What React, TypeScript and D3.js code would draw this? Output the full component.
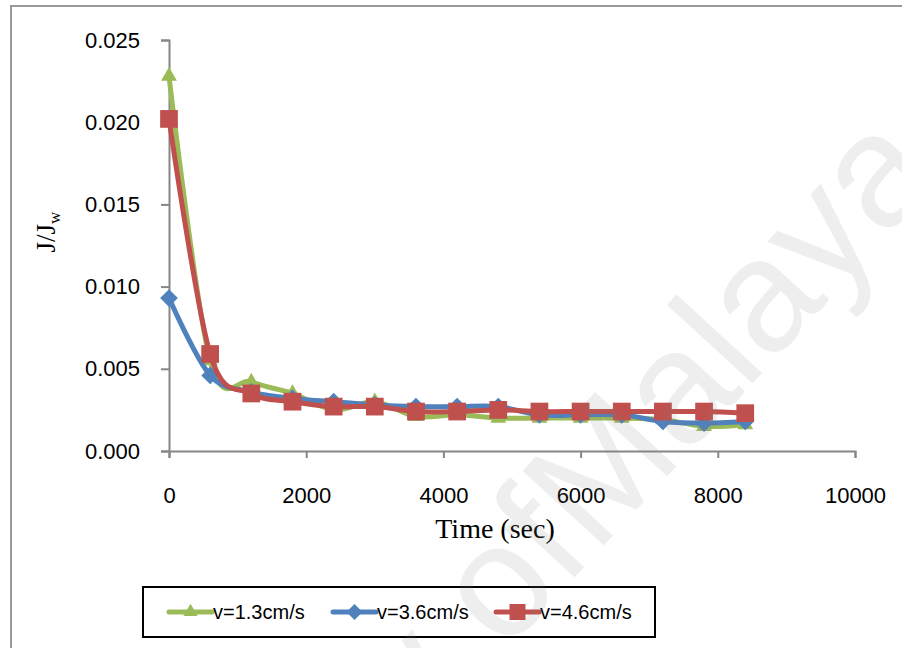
import React, { useEffect, useRef } from 'react';
import * as d3 from 'd3';

// time points (sec)
const times = [0, 600, 1200, 1800, 2400, 3000, 3600, 4200, 4800, 5400, 6000, 6600, 7200, 7800, 8400];

// J/Jw for each flow velocity
const v13 = [0.0228, 0.0055, 0.0042, 0.0035, 0.0025, 0.0030, 0.0021, 0.0022, 0.0020, 0.0020, 0.0020, 0.0020, 0.0019, 0.0015, 0.0016];
const v36 = [0.0093, 0.0046, 0.0036, 0.0032, 0.0030, 0.0028, 0.0027, 0.0027, 0.0027, 0.0022, 0.0022, 0.0022, 0.0018, 0.0017, 0.0018];
const v46 = [0.0202, 0.0059, 0.0035, 0.0030, 0.0027, 0.0027, 0.0024, 0.0024, 0.0025, 0.0024, 0.0024, 0.0024, 0.0024, 0.0024, 0.0023];

const seriesNames = ['v=1.3cm/s', 'v=3.6cm/s', 'v=4.6cm/s'];
const xTicks = [0, 2000, 4000, 6000, 8000, 10000];
const yTicks = [0, 0.005, 0.01, 0.015, 0.02, 0.025];

export default function App() {
    const ref = useRef<SVGSVGElement>(null);

    useEffect(() => {
        const svg = d3.select(ref.current);
        svg.selectAll('*').remove();

        const x = d3.scaleLinear().domain([0, 10000]).range([169, 855]);
        const y = d3.scaleLinear().domain([0, 0.025]).range([451, 40]);

        // outer frame
        svg.append('rect')
            .attr('x', 11).attr('y', 6)
            .attr('width', 920).attr('height', 700)
            .attr('fill', 'none')
            .attr('stroke', '#9a9a9a')
            .attr('stroke-width', 2);

        // axes
        const axisColor = '#868686';
        const xAxis = svg.append('g')
            .attr('transform', 'translate(0,451)')
            .call(d3.axisBottom(x).tickValues(xTicks).tickSize(7).tickFormat(d3.format('d')));
        const yAxis = svg.append('g')
            .attr('transform', 'translate(169,0)')
            .call(d3.axisLeft(y).tickValues(yTicks).tickSize(8).tickFormat(d3.format('.3f')));

        [xAxis, yAxis].forEach(a => {
            a.select('.domain').attr('stroke', axisColor).attr('stroke-width', 2);
            a.selectAll('.tick line').attr('stroke', axisColor).attr('stroke-width', 2);
            a.selectAll('.tick text')
                .attr('fill', '#000')
                .style('font-family', 'Liberation Sans, Arial, sans-serif')
                .style('font-size', '22px');
        });
        xAxis.selectAll('.tick text').attr('y', 0).attr('dy', 0).attr('transform', 'translate(0,52)');
        yAxis.selectAll('.tick text').attr('x', -29);

        // axis titles
        svg.append('text')
            .attr('x', 495).attr('y', 538)
            .attr('text-anchor', 'middle')
            .style('font-family', 'Liberation Serif, Times New Roman, serif')
            .style('font-size', '28px')
            .text('Time (sec)');

        const yt = svg.append('text')
            .attr('transform', 'translate(55,232) rotate(-90)')
            .attr('text-anchor', 'middle')
            .style('font-family', 'Liberation Serif, Times New Roman, serif')
            .style('font-size', '27px');
        yt.append('tspan').text('J/J');
        yt.append('tspan').attr('dy', 5).style('font-size', '17px').text('w');

        // series
        const colors = ['#9bbb59', '#4f81bd', '#c0504d'];
        const values = [v13, v36, v46];
        const line = d3.line<number>()
            .x((d, i) => x(times[i]))
            .y(d => y(d))
            .curve(d3.curveCatmullRom.alpha(0));

        const markerPath = (k: number, size: number) => {
            if (k === 0) return d3.symbol(d3.symbolTriangle2, size * size * 0.45)();
            if (k === 1) return d3.symbol(d3.symbolDiamond2, size * size * 0.5)();
            return d3.symbol(d3.symbolSquare2, size * size)();
        };

        values.forEach((vals, k) => {
            svg.append('path')
                .datum(vals)
                .attr('fill', 'none')
                .attr('stroke', colors[k])
                .attr('stroke-width', 5)
                .attr('stroke-linejoin', 'round')
                .attr('d', line);
            svg.append('g')
                .selectAll('path')
                .data(vals)
                .enter()
                .append('path')
                .attr('transform', (d, i) => `translate(${x(times[i])},${y(d)})`)
                .attr('d', markerPath(k, 20))
                .attr('fill', colors[k]);
        });

        // legend
        svg.append('rect')
            .attr('x', 143).attr('y', 587)
            .attr('width', 512).attr('height', 50)
            .attr('fill', '#fff')
            .attr('stroke', '#000')
            .attr('stroke-width', 2);

        const legendX = [169, 333, 496];
        seriesNames.forEach((name, k) => {
            const g = svg.append('g').attr('transform', `translate(${legendX[k]},612)`);
            g.append('line')
                .attr('x1', 0).attr('x2', 43)
                .attr('stroke', colors[k])
                .attr('stroke-width', 5)
                .attr('stroke-linecap', 'round');
            g.append('path')
                .attr('transform', 'translate(21.5,0)')
                .attr('d', markerPath(k, 18))
                .attr('fill', colors[k]);
            g.append('text')
                .attr('x', 44).attr('y', 0)
                .attr('dy', '0.35em')
                .style('font-family', 'Liberation Sans, Arial, sans-serif')
                .style('font-size', '20px')
                .text(name);
        });

        // watermark, laid over the page
        const wm = svg.append('g')
            .attr('transform', 'translate(595,555) rotate(-47.5)')
            .style('font-family', 'Liberation Sans, Arial, sans-serif')
            .style('font-size', '160px')
            .attr('fill', '#808080')
            .attr('opacity', 0.13)
            .style('pointer-events', 'none');
        wm.append('text').attr('text-anchor', 'start').text('Malaya');
        wm.append('text').attr('text-anchor', 'end').text('University of ');
    }, []);

    return (
        <svg ref={ref} width={902} height={648}
            style={{ position: 'absolute', left: 0, top: 0, background: '#fff' }} />
    );
}
